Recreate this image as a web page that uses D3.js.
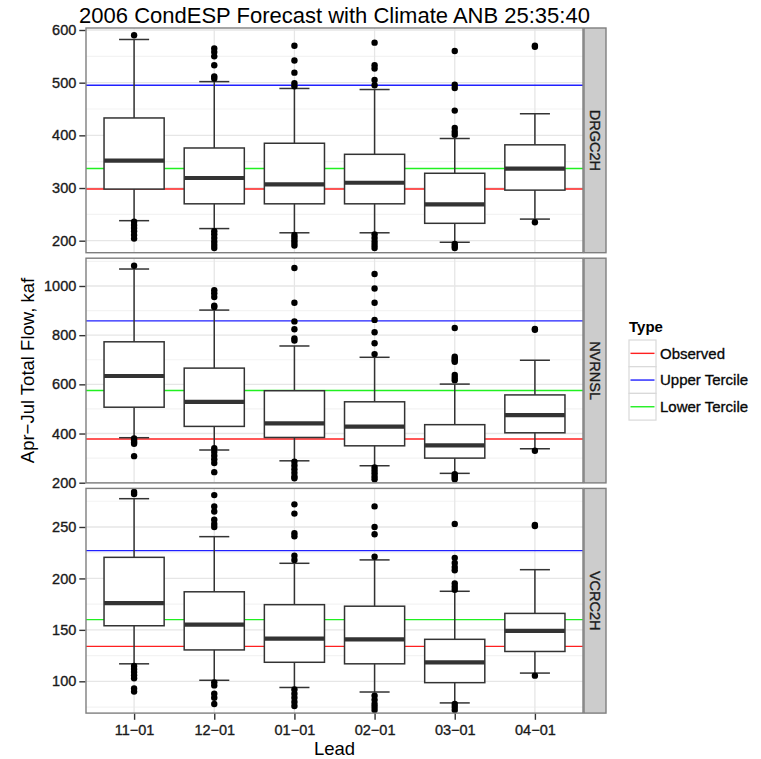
<!DOCTYPE html>
<html>
<head>
<meta charset="utf-8">
<script src="https://cdn.jsdelivr.net/npm/d3@7"></script>
<style>
  body { margin: 0; background: #fff; }
  svg { display: block; font-family: "Liberation Sans", Arial, sans-serif; }
</style>
</head>
<body>
<svg id="chart" width="761" height="759"></svg>
<script>
// ---------------- DATA ----------------
const leads = ["11-01", "12-01", "01-01", "02-01", "03-01", "04-01"];
const sites = ["DRGC2H", "NVRNSL", "VCRC2H"];

// five-number summaries per lead: [lower whisker, Q1, median, Q3, upper whisker]
const drgcStats = [
  [238, 298, 352, 433, 582],
  [223, 270, 319, 376, 502],
  [215, 270, 307, 385, 489],
  [215, 270, 310, 364, 487],
  [197, 233, 269, 328, 394],
  [241, 296, 337, 382, 441]
];
const nvrnStats = [
  [383, 507, 634, 773, 1069],
  [333, 429, 529, 666, 902],
  [289, 384, 441, 574, 756],
  [269, 350, 428, 529, 710],
  [238, 300, 352, 436, 601],
  [338, 403, 475, 557, 698]
];
const vcrcStats = [
  [117, 154, 176, 220.5, 277.5],
  [101, 130.5, 155, 187, 240.6],
  [94, 118.5, 141.4, 174.5, 214.7],
  [89.6, 117, 140.8, 173, 218],
  [79, 98.7, 118.5, 140.8, 187.5],
  [108, 129, 149, 166, 208.5]
];

const drgcOutliers = [
  [590, 236, 230, 224, 218, 211, 204],
  [565, 558, 550, 533, 512, 508, 218, 212, 205, 198, 192, 186],
  [570, 542, 519, 499, 493, 211, 206, 201, 196, 191],
  [576, 533, 527, 505, 495, 212, 205, 198, 192, 186],
  [560, 496, 490, 447, 414, 407, 401, 194, 190, 186],
  [570, 568, 235]
];
const nvrnOutliers = [
  [1082, 380, 372, 365, 358, 308],
  [983, 970, 955, 920, 915, 340, 325, 310, 295, 280, 243],
  [1073, 932, 856, 824, 787, 778, 285, 270, 255, 240, 225, 218],
  [1049, 990, 932, 862, 812, 767, 723, 262, 250, 238, 225, 214],
  [829, 712, 705, 698, 692, 638, 627, 617, 235, 228, 221, 214],
  [825, 822, 330]
];
const vcrcOutliers = [
  [284, 282, 115, 112, 109, 106, 103, 93, 90],
  [281, 270, 265, 257, 253, 250, 99, 96, 88, 84, 78],
  [272, 263, 244, 241, 222, 218, 92, 88, 84, 80, 76],
  [270, 250, 243, 221, 86, 82, 78, 75, 72],
  [253, 220, 215, 211, 208, 195, 192, 189, 78, 75, 72],
  [252, 251, 105.5]
];

// reference lines per site
const observed     = [298, 378, 134];
const upperTercile = [495, 858, 227];
const lowerTercile = [337, 575, 160];
const lineTypes  = ["Observed", "Upper Tercile", "Lower Tercile"];
const lineColors = ["#FF2020", "#2020FF", "#20F020"];

// axis ticks and visible y range per site
const drgcTicks = [200, 300, 400, 500, 600];
const nvrnTicks = [200, 400, 600, 800, 1000];
const vcrcTicks = [100, 150, 200, 250];
const drgcMinor = [250, 350, 450, 550];
const nvrnMinor = [300, 500, 700, 900, 1100];
const vcrcMinor = [75, 125, 175, 225, 275];
const yDomains = [[177.2, 603.8], [199.2, 1113], [69.1, 287.5]];

const titleText = "2006 CondESP Forecast with Climate ANB 25:35:40";
const yTitle = "Apr\u2212Jul Total Flow, kaf";
const xTitle = "Lead";
const legendTitle = "Type";

// ---------------- LAYOUT ----------------
const svg = d3.select("#chart");
const panelL = 86, panelR = 583, stripW = 23;
const panelTops = [28, 258.2, 488.4];
const panelH = 224.7;
const statsBySite = [drgcStats, nvrnStats, vcrcStats];
const outBySite = [drgcOutliers, nvrnOutliers, vcrcOutliers];
const ticksBySite = [drgcTicks, nvrnTicks, vcrcTicks];
const minorBySite = [drgcMinor, nvrnMinor, vcrcMinor];
const refBySite = sites.map((s, i) => [observed[i], upperTercile[i], lowerTercile[i]]);

svg.append("rect").attr("width", 761).attr("height", 759).attr("fill", "#fff");

const x = d3.scalePoint().domain(leads).range([panelL, panelR]).padding(0.6);
const step = x.step();
const boxW = step * 0.75, capW = step * 0.375;
const dark = "#333333";
const fmt = d => d.toString().replace("-", "\u2212");
const heavy = sel => sel.attr("stroke", "#1a1a1a").attr("stroke-width", 0.35);

sites.forEach((site, si) => {
  const top = panelTops[si], bot = top + panelH;
  const y = d3.scaleLinear().domain(yDomains[si]).range([bot, top]);
  const g = svg.append("g");

  g.append("rect").attr("x", panelL).attr("y", top).attr("width", panelR - panelL)
    .attr("height", panelH).attr("fill", "#fff");

  // minor grid
  g.selectAll(".minor").data(minorBySite[si].filter(v => v >= yDomains[si][0] && v <= yDomains[si][1]))
    .join("line").attr("x1", panelL).attr("x2", panelR)
    .attr("y1", d => y(d)).attr("y2", d => y(d))
    .attr("stroke", "#F3F3F3").attr("stroke-width", 1.2);
  // major grid
  g.selectAll(".majorh").data(ticksBySite[si])
    .join("line").attr("x1", panelL).attr("x2", panelR)
    .attr("y1", d => y(d)).attr("y2", d => y(d))
    .attr("stroke", "#E6E6E6").attr("stroke-width", 1.3);
  g.selectAll(".majorv").data(leads)
    .join("line").attr("y1", top).attr("y2", bot)
    .attr("x1", d => x(d)).attr("x2", d => x(d))
    .attr("stroke", "#E6E6E6").attr("stroke-width", 1.3);

  // reference lines
  g.selectAll(".ref").data(refBySite[si])
    .join("line").attr("x1", panelL).attr("x2", panelR)
    .attr("y1", d => y(d)).attr("y2", d => y(d))
    .attr("stroke", (d, i) => lineColors[i]).attr("stroke-width", 1.4);

  const stats = statsBySite[si];
  const bx = g.selectAll(".box").data(leads).join("g");
  // whiskers
  bx.append("line").attr("x1", d => x(d)).attr("x2", d => x(d))
    .attr("y1", (d, i) => y(stats[i][0])).attr("y2", (d, i) => y(stats[i][4]))
    .attr("stroke", dark).attr("stroke-width", 1.5);
  // caps
  bx.append("line").attr("x1", d => x(d) - capW / 2).attr("x2", d => x(d) + capW / 2)
    .attr("y1", (d, i) => y(stats[i][4])).attr("y2", (d, i) => y(stats[i][4]))
    .attr("stroke", dark).attr("stroke-width", 1.5);
  bx.append("line").attr("x1", d => x(d) - capW / 2).attr("x2", d => x(d) + capW / 2)
    .attr("y1", (d, i) => y(stats[i][0])).attr("y2", (d, i) => y(stats[i][0]))
    .attr("stroke", dark).attr("stroke-width", 1.5);
  // box
  bx.append("rect").attr("x", d => x(d) - boxW / 2).attr("width", boxW)
    .attr("y", (d, i) => y(stats[i][3]))
    .attr("height", (d, i) => y(stats[i][1]) - y(stats[i][3]))
    .attr("fill", "#fff").attr("stroke", dark).attr("stroke-width", 1.5);
  // median
  bx.append("line").attr("x1", d => x(d) - boxW / 2).attr("x2", d => x(d) + boxW / 2)
    .attr("y1", (d, i) => y(stats[i][2])).attr("y2", (d, i) => y(stats[i][2]))
    .attr("stroke", dark).attr("stroke-width", 4.2);
  // outliers
  bx.each(function (d, i) {
    d3.select(this).selectAll("circle").data(outBySite[si][i]).join("circle")
      .attr("cx", x(d)).attr("cy", v => y(v)).attr("r", 3.2).attr("fill", "#000");
  });

  // panel border
  g.append("rect").attr("x", panelL).attr("y", top).attr("width", panelR - panelL)
    .attr("height", panelH).attr("fill", "none").attr("stroke", "#7F7F7F").attr("stroke-width", 1.4);

  // strip
  g.append("rect").attr("x", panelR + 1).attr("y", top).attr("width", stripW - 1).attr("height", panelH)
    .attr("fill", "#CCCCCC").attr("stroke", "#7F7F7F").attr("stroke-width", 1.4);
  g.append("text").attr("transform", `translate(${panelR + 1 + (stripW - 1) / 2},${top + panelH / 2}) rotate(90)`)
    .attr("text-anchor", "middle").attr("dy", "0.35em")
    .attr("font-size", 14.5).attr("fill", "#1a1a1a").call(heavy).text(site);

  // y axis
  const ax = g.append("g").attr("transform", `translate(${panelL - 0.7},0)`)
    .call(d3.axisLeft(y).tickValues(ticksBySite[si]).tickSize(6).tickPadding(3).tickFormat(d3.format("d")));
  ax.select(".domain").remove();
  ax.selectAll(".tick line").attr("stroke", dark).attr("stroke-width", 1.4);
  ax.selectAll(".tick text").attr("font-size", 14.5).attr("fill", "#1a1a1a").call(heavy)
    .attr("font-family", "'Liberation Sans', Arial, sans-serif");

  if (si === sites.length - 1) {
    const xa = g.append("g").attr("transform", `translate(0,${bot + 0.7})`)
      .call(d3.axisBottom(x).tickSize(6).tickPadding(5).tickFormat(fmt));
    xa.select(".domain").remove();
    xa.selectAll(".tick line").attr("stroke", dark).attr("stroke-width", 1.4);
    xa.selectAll(".tick text").attr("font-size", 14.5).attr("fill", "#1a1a1a").call(heavy)
      .attr("font-family", "'Liberation Sans', Arial, sans-serif");
  }
});

// titles
svg.append("text").attr("x", (panelL + panelR) / 2).attr("y", 22.5).attr("text-anchor", "middle")
  .attr("font-size", 22).attr("fill", "#000").text(titleText);
svg.append("text").attr("x", (panelL + panelR) / 2).attr("y", 755).attr("text-anchor", "middle")
  .attr("font-size", 18.5).attr("fill", "#000").text(xTitle);
svg.append("text").attr("transform", `translate(34,${(panelTops[0] + panelTops[2] + panelH) / 2}) rotate(-90)`)
  .attr("text-anchor", "middle").attr("font-size", 18.5).attr("fill", "#000").text(yTitle);

// legend
const lg = svg.append("g");
const keyX = 629, keyY = 340, keyW = 27, keyH = 26.7;
lg.append("text").attr("x", keyX).attr("y", 332).attr("font-size", 15).attr("font-weight", "bold")
  .attr("fill", "#000").text(legendTitle);
lineTypes.forEach((t, i) => {
  const ky = keyY + i * keyH;
  lg.append("rect").attr("x", keyX).attr("y", ky).attr("width", keyW).attr("height", keyH)
    .attr("fill", "#fff").attr("stroke", "#D9D9D9").attr("stroke-width", 1.2);
  lg.append("line").attr("x1", keyX + 1.5).attr("x2", keyX + keyW - 1.5)
    .attr("y1", ky + keyH / 2).attr("y2", ky + keyH / 2)
    .attr("stroke", lineColors[i]).attr("stroke-width", 1.4);
  lg.append("text").attr("x", keyX + keyW + 4).attr("y", ky + keyH / 2).attr("dy", "0.35em")
    .attr("font-size", 15).attr("fill", "#000").call(heavy).text(t);
});
</script>
</body>
</html>
